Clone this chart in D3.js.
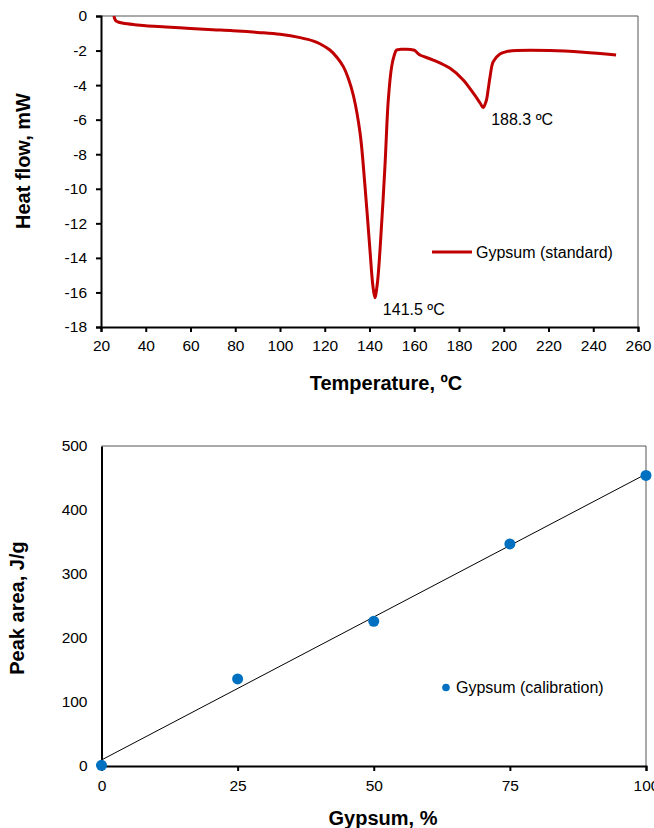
<!DOCTYPE html>
<html>
<head>
<meta charset="utf-8">
<script src="https://cdn.jsdelivr.net/npm/d3@7"></script>
<style>
  body { margin: 0; background: #fff; }
  svg { display: block; font-family: 'Liberation Sans', Arial, sans-serif; }
  .tick text { font-size: 15.5px; fill: #000; }
  .axis-title { font-size: 20px; font-weight: bold; }
</style>
</head>
<body>
<svg width="654" height="828"></svg>
<script>
// DSC curve of the gypsum standard
const dscTemp = [25.8, 26.1, 26.8, 28, 30, 35, 40, 49, 60, 70, 79, 90, 100, 109, 115, 118,
  122.3, 125.5, 128.3, 130.5, 132.8, 135.8, 138, 140.2, 141.5, 142.4, 143.4, 144.7, 146.9,
  148.4, 149.9, 151, 152.1, 154, 156.6, 159.6, 160.3, 161.5, 162.6, 168.5, 176, 181.9, 186.4,
  189.5, 190.8, 191.8, 192.3, 193.1, 193.9, 195.3, 198.3, 201, 205.8, 220.7, 235.6, 250.2];
const dscHeat = [0, -0.15, -0.3, -0.36, -0.42, -0.5, -0.56, -0.63, -0.72, -0.79, -0.85, -0.95,
  -1.06, -1.25, -1.45, -1.62, -1.97, -2.4, -2.93, -3.6, -4.6, -6.79, -9.88, -13.54, -15.6,
  -16.3, -15.6, -13.54, -8.7, -4.86, -2.93, -2.3, -1.97, -1.93, -1.93, -1.97, -2.0, -2.15,
  -2.26, -2.55, -3.03, -3.7, -4.47, -5.05, -5.3, -5.05, -4.86, -4.2, -3.5, -2.64, -2.2, -2.07,
  -2.0, -2.0, -2.1, -2.26];
const peakLabels = [
  { t: 142.4, v: -16.3, text: '141.5 ºC' },
  { t: 190.8, v: -5.3, text: '188.3 ºC' }
];
const tempTicks = [20, 40, 60, 80, 100, 120, 140, 160, 180, 200, 220, 240, 260];
const heatTicks = [0, -2, -4, -6, -8, -10, -12, -14, -16, -18];

// calibration points
const gypsumPct = [0, 25, 50, 75, 100];
const peakArea = [1, 136, 226, 347, 454];
const pctTicks = [0, 25, 50, 75, 100];
const areaTicks = [0, 100, 200, 300, 400, 500];

const svg = d3.select('svg');
const plain = d => String(d); // hyphen minus like the original

// ---------- top chart ----------
const x1 = d3.scaleLinear().domain([20, 260]).range([101, 638]);
const y1 = d3.scaleLinear().domain([0, -18]).range([16, 327]);

const g1 = svg.append('g');

g1.append('path')
  .attr('d', `M${x1(20)},${y1(0)}H${x1(260)}V${y1(-18)}`)
  .attr('fill', 'none')
  .attr('stroke', '#555')
  .attr('stroke-width', 1);

const xAxis1 = g1.append('g')
  .attr('transform', `translate(0,${y1(-18)})`)
  .call(d3.axisBottom(x1).tickValues(tempTicks).tickFormat(plain).tickSize(5).tickPadding(8));
const yAxis1 = g1.append('g')
  .attr('transform', `translate(${x1(20)},0)`)
  .call(d3.axisLeft(y1).tickValues(heatTicks).tickFormat(plain).tickSize(5).tickPadding(9));

[xAxis1, yAxis1].forEach(a => {
  a.attr('font-size', null).attr('font-family', null);
  a.select('.domain').attr('stroke', '#000').attr('stroke-width', 2);
  a.selectAll('.tick line').attr('stroke', '#000').attr('stroke-width', 2);
});

const dsc = dscTemp.map((t, i) => ({ t, v: dscHeat[i] }));
const line1 = d3.line()
  .x(d => x1(d.t))
  .y(d => y1(d.v))
  .curve(d3.curveCatmullRom.alpha(0.5));

g1.append('path')
  .datum(dsc)
  .attr('d', line1)
  .attr('fill', 'none')
  .attr('stroke', '#C00000')
  .attr('stroke-width', 3)
  .attr('stroke-linejoin', 'round');

g1.selectAll('text.peak')
  .data(peakLabels)
  .enter()
  .append('text')
  .attr('class', 'peak')
  .attr('x', d => x1(d.t) + 8)
  .attr('y', d => y1(d.v) + 17.5)
  .attr('font-size', 16)
  .text(d => d.text);

// legend
g1.append('line')
  .attr('x1', 432).attr('x2', 472)
  .attr('y1', 252).attr('y2', 252)
  .attr('stroke', '#C00000')
  .attr('stroke-width', 3);
g1.append('text')
  .attr('x', 476).attr('y', 257.5)
  .attr('font-size', 16)
  .text('Gypsum (standard)');

g1.append('text')
  .attr('class', 'axis-title')
  .attr('transform', 'translate(30,161) rotate(-90)')
  .attr('text-anchor', 'middle')
  .text('Heat flow, mW');
g1.append('text')
  .attr('class', 'axis-title')
  .attr('x', 386).attr('y', 390)
  .attr('text-anchor', 'middle')
  .text('Temperature, ºC');

// ---------- bottom chart ----------
const x2 = d3.scaleLinear().domain([0, 100]).range([101.5, 646]);
const y2 = d3.scaleLinear().domain([0, 500]).range([766, 446]);

const g2 = svg.append('g');

g2.append('path')
  .attr('d', `M${x2(0)},${y2(500)}H${x2(100)}V${y2(0)}`)
  .attr('fill', 'none')
  .attr('stroke', '#555')
  .attr('stroke-width', 1);

const xAxis2 = g2.append('g')
  .attr('transform', `translate(0,${y2(0)})`)
  .call(d3.axisBottom(x2).tickValues(pctTicks).tickFormat(plain).tickSize(5).tickPadding(8.5));
const yAxis2 = g2.append('g')
  .attr('transform', `translate(${x2(0)},0)`)
  .call(d3.axisLeft(y2).tickValues(areaTicks).tickFormat(plain).tickSize(0).tickPadding(14));

[xAxis2, yAxis2].forEach(a => {
  a.attr('font-size', null).attr('font-family', null);
  a.select('.domain').attr('stroke', '#000').attr('stroke-width', 2);
  a.selectAll('.tick line').attr('stroke', '#000').attr('stroke-width', 2);
});

// least squares trend line through the calibration points
const mx = d3.mean(gypsumPct);
const my = d3.mean(peakArea);
const slope = d3.sum(gypsumPct, (x, i) => (x - mx) * (peakArea[i] - my)) /
  d3.sum(gypsumPct, x => (x - mx) * (x - mx));
const icpt = my - slope * mx;

g2.append('line')
  .attr('x1', x2(0)).attr('y1', y2(icpt))
  .attr('x2', x2(100)).attr('y2', y2(icpt + slope * 100))
  .attr('stroke', '#000')
  .attr('stroke-width', 1);

g2.selectAll('circle.pt')
  .data(gypsumPct.map((p, i) => ({ p, a: peakArea[i] })))
  .enter()
  .append('circle')
  .attr('class', 'pt')
  .attr('cx', d => x2(d.p))
  .attr('cy', d => y2(d.a))
  .attr('r', 5.5)
  .attr('fill', '#0070C0');

// legend
g2.append('circle')
  .attr('cx', 446).attr('cy', 687.5)
  .attr('r', 3.8)
  .attr('fill', '#0070C0');
g2.append('text')
  .attr('x', 456).attr('y', 693)
  .attr('font-size', 16)
  .text('Gypsum (calibration)');

g2.append('text')
  .attr('class', 'axis-title')
  .attr('transform', 'translate(24,608) rotate(-90)')
  .attr('text-anchor', 'middle')
  .text('Peak area, J/g');
g2.append('text')
  .attr('class', 'axis-title')
  .attr('x', 383).attr('y', 825)
  .attr('text-anchor', 'middle')
  .text('Gypsum, %');
</script>
</body>
</html>
